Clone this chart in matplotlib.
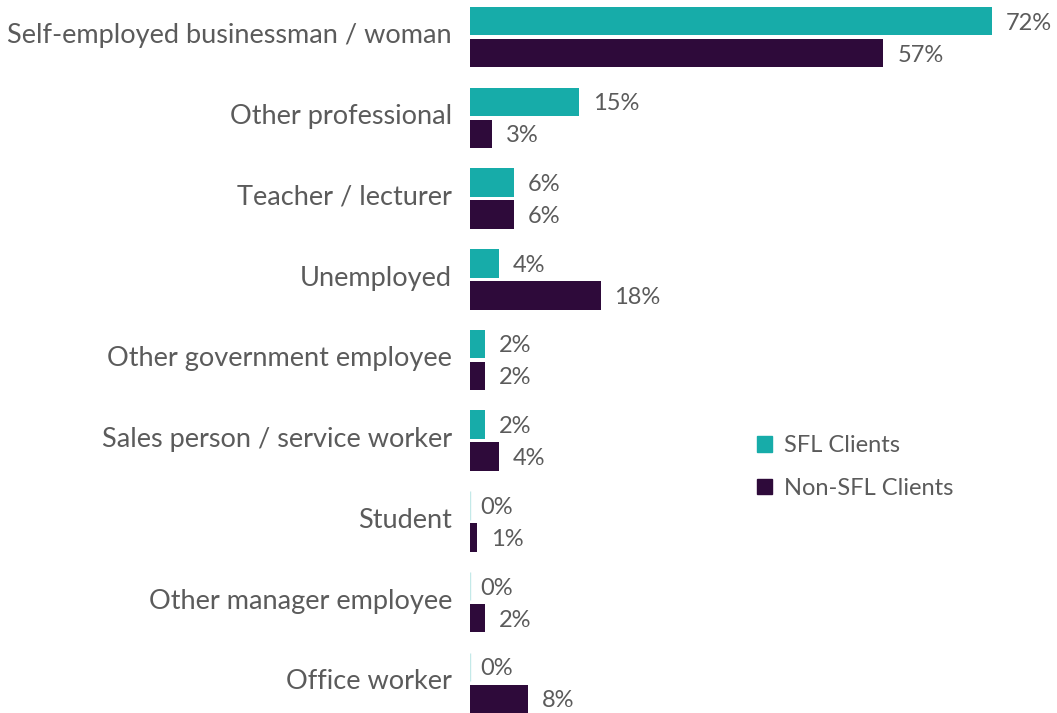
import matplotlib
matplotlib.use("Agg")
import matplotlib.pyplot as plt
from matplotlib.patches import Patch

categories = [
    "Self-employed businessman / woman",
    "Other professional",
    "Teacher / lecturer",
    "Unemployed",
    "Other government employee",
    "Sales person / service worker",
    "Student",
    "Other manager employee",
    "Office worker",
]
sfl = [72, 15, 6, 4, 2, 2, 0, 0, 0]
non_sfl = [57, 3, 6, 18, 2, 4, 1, 2, 8]
series_names = ["SFL Clients", "Non-SFL Clients"]

TEAL = "#17aca9"
PURPLE = "#2e0a3a"
ZERO = "#c4e9e8"
GREY = "#5b5b5b"

plt.rcParams["font.family"] = ["Lato", "DejaVu Sans"]

W, H = 1057, 713
fig = plt.figure(figsize=(W / 100, H / 100), dpi=100)
ax = fig.add_axes([470 / W, 0, 580 / W, 1])

step = 80.75
bar_h = 28.5 / step
off = 16 / step

for i, (a, b) in enumerate(zip(sfl, non_sfl)):
    for v, col, dy in ((a, TEAL, -off), (b, PURPLE, off)):
        ax.barh(i + dy, v, height=bar_h, color=col,
                edgecolor=ZERO if v == 0 else "none",
                linewidth=1.0 if v == 0 else 0)
        ax.annotate(f"{v}%", xy=(v, i + dy), xytext=(10 if v == 0 else 14, -2),
                    textcoords="offset pixels", ha="left", va="center",
                    fontsize=17, color=GREY)
    ax.annotate(categories[i], xy=(0, i), xycoords=("axes fraction", "data"),
                xytext=(-18, 1), textcoords="offset pixels",
                ha="right", va="center", fontsize=19.5, color=GREY)

ax.set_xlim(0, 80)
ax.set_ylim((H - 37) / step, -37 / step)
ax.axis("off")

handles = [Patch(color=TEAL), Patch(color=PURPLE)]
ax.legend(handles, series_names, loc="center left",
          bbox_to_anchor=(757 / W, 1 - 467 / H), bbox_transform=fig.transFigure,
          frameon=False, fontsize=17, labelcolor=GREY,
          handlelength=0.64, handleheight=0.64, handletextpad=0.5,
          labelspacing=0.9, borderpad=0, borderaxespad=0)

fig.savefig("out.png", dpi=100)
